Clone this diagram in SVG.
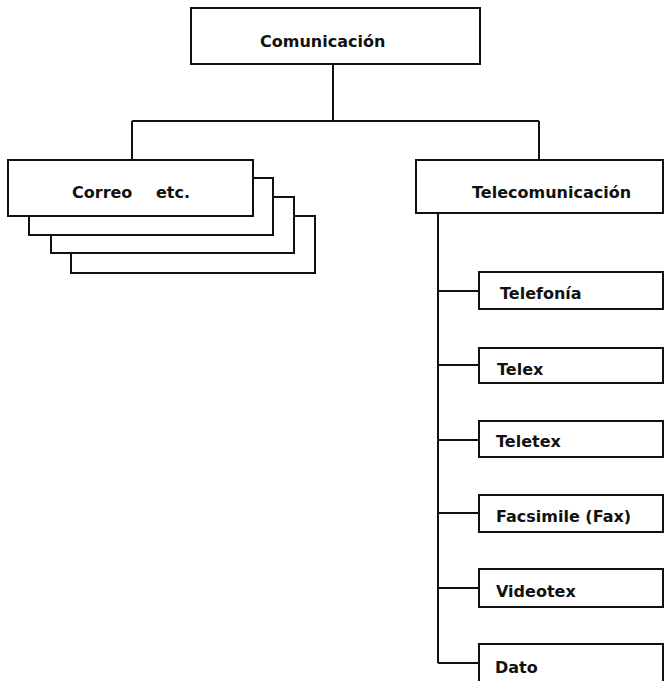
<svg xmlns="http://www.w3.org/2000/svg" width="664" height="681" viewBox="0 0 664 681">
<style>
.box{fill:#fff;stroke:#111;stroke-width:2}
.ln{fill:none;stroke:#111;stroke-width:2}
text{font-family:"DejaVu Sans","Liberation Sans",sans-serif;font-weight:bold;font-size:16px;fill:#111}
</style>
<rect width="664" height="681" fill="#fff"/>
<g id="connectors" class="ln">
<path d="M333 64V121M132 121H539M132 121V160M539 121V160"/>
<path d="M438 213V663M438 291H479M438 365H479M438 440H479M438 513H479M438 588H479M438 663H479"/>
</g>
<g id="comunicacion"><rect class="box" x="191" y="8" width="289" height="56"/><text x="260" y="47">Comunicación</text></g>
<g id="correo">
<rect class="box" x="71" y="216" width="244" height="57"/>
<rect class="box" x="51" y="197" width="243" height="56"/>
<rect class="box" x="29" y="178" width="244" height="57"/>
<rect class="box" x="8" y="160" width="245" height="56"/>
<text x="72" y="198">Correo</text><text x="156" y="198">etc.</text>
</g>
<g id="telecomunicacion"><rect class="box" x="416" y="160" width="247" height="53"/><text x="472" y="198">Telecomunicación</text></g>
<g id="telefonia"><rect class="box" x="479" y="272" width="184" height="37"/><text x="500" y="299">Telefonía</text></g>
<g id="telex"><rect class="box" x="479" y="348" width="184" height="35"/><text x="497" y="375">Telex</text></g>
<g id="teletex"><rect class="box" x="479" y="421" width="184" height="36"/><text x="496" y="447">Teletex</text></g>
<g id="fax"><rect class="box" x="479" y="495" width="184" height="37"/><text x="496" y="522">Facsimile (Fax)</text></g>
<g id="videotex"><rect class="box" x="479" y="569" width="184" height="38"/><text x="496" y="597">Videotex</text></g>
<g id="dato"><rect class="box" x="479" y="644" width="184" height="50"/><text x="495" y="673">Dato</text></g>
</svg>
